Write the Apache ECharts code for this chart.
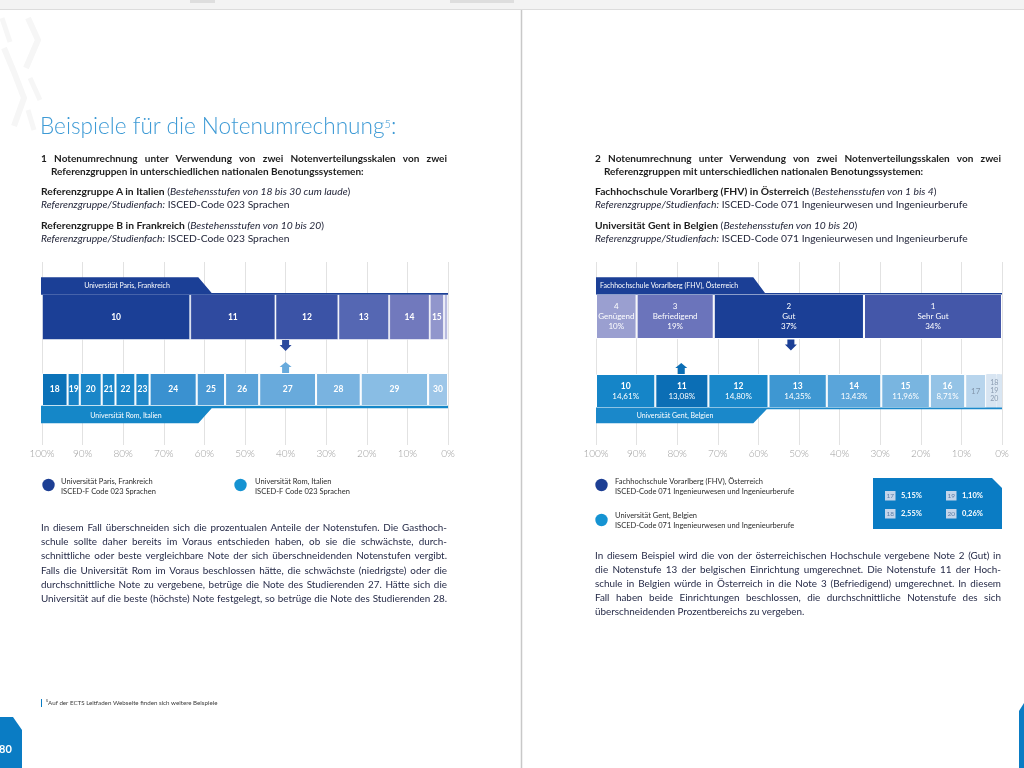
<!DOCTYPE html>
<html>
<head>
<meta charset="utf-8">
<script src="https://cdn.jsdelivr.net/npm/echarts@6/dist/echarts.min.js"></script>
<style>
html,body{margin:0;padding:0;background:#fff;}
#wrap{position:relative;width:1024px;height:768px;overflow:hidden;font-family:Lato,'Open Sans',sans-serif;}
#chart{position:absolute;left:0;top:0;width:1024px;height:768px;}
#txt{position:absolute;left:0;top:0;width:1024px;height:768px;pointer-events:none;}
.t{position:absolute;color:#23263a;font-size:10.3px;line-height:14px;height:14px;white-space:nowrap;}
.j{text-align:justify;text-align-last:justify;white-space:normal;overflow:hidden;}
.b{font-weight:700;color:#1c1c1c;}
.h{font-size:10px;}
.p{font-size:9.9px;color:#262b48;}
.i{font-style:italic;}
.title{position:absolute;left:40px;top:112px;font-size:22.6px;line-height:28px;font-weight:300;color:#3d9ad5;white-space:nowrap;}
.title sup{font-size:11px;vertical-align:top;position:relative;top:-2px;}
</style>
</head>
<body>
<div id="wrap">
<div id="chart"></div>
<div id="txt">
  <div class="title">Beispiele für die Notenumrechnung<sup>5</sup>:</div>

  <div class="t j b h" style="left:41px;top:151px;width:406px;">1 Notenumrechnung unter Verwendung von zwei Notenverteilungsskalen von zwei</div>
  <div class="t b h" style="left:51px;top:164px;">Referenzgruppen in unterschiedlichen nationalen Benotungssystemen:</div>
  <div class="t" style="left:41px;top:184px;"><span class="b">Referenzgruppe A in Italien</span> (<span class="i">Bestehensstufen von 18 bis 30 cum laude</span>)</div>
  <div class="t" style="left:41px;top:197px;"><span class="i">Referenzgruppe/Studienfach:</span> ISCED-Code 023 Sprachen</div>
  <div class="t" style="left:41px;top:218px;"><span class="b">Referenzgruppe B in Frankreich</span> (<span class="i">Bestehensstufen von 10 bis 20</span>)</div>
  <div class="t" style="left:41px;top:231px;"><span class="i">Referenzgruppe/Studienfach:</span> ISCED-Code 023 Sprachen</div>

  <div class="t j b h" style="left:595px;top:151px;width:406px;">2 Notenumrechnung unter Verwendung von zwei Notenverteilungsskalen von zwei</div>
  <div class="t b h" style="left:604px;top:164px;">Referenzgruppen mit unterschiedlichen nationalen Benotungssystemen:</div>
  <div class="t" style="left:595px;top:184px;"><span class="b">Fachhochschule Vorarlberg (FHV) in Österreich</span> (<span class="i">Bestehensstufen von 1 bis 4</span>)</div>
  <div class="t" style="left:595px;top:197px;"><span class="i">Referenzgruppe/Studienfach:</span> ISCED-Code 071 Ingenieurwesen und Ingenieurberufe</div>
  <div class="t" style="left:595px;top:218px;"><span class="b">Universität Gent in Belgien</span> (<span class="i">Bestehensstufen von 10 bis 20</span>)</div>
  <div class="t" style="left:595px;top:231px;"><span class="i">Referenzgruppe/Studienfach:</span> ISCED-Code 071 Ingenieurwesen und Ingenieurberufe</div>

  <div class="t j p" style="left:41px;top:520px;width:406px;">In diesem Fall überschneiden sich die prozentualen Anteile der Notenstufen. Die Gasthoch-</div>
  <div class="t j p" style="left:41px;top:534px;width:406px;">schule sollte daher bereits im Voraus entschieden haben, ob sie die schwächste, durch-</div>
  <div class="t j p" style="left:41px;top:548px;width:406px;">schnittliche oder beste vergleichbare Note der sich überschneidenden Notenstufen vergibt.</div>
  <div class="t j p" style="left:41px;top:563px;width:406px;">Falls die Universität Rom im Voraus beschlossen hätte, die schwächste (niedrigste) oder die</div>
  <div class="t j p" style="left:41px;top:577px;width:406px;">durchschnittliche Note zu vergebene, betrüge die Note des Studierenden 27. Hätte sich die</div>
  <div class="t j p" style="left:41px;top:591px;width:406px;">Universität auf die beste (höchste) Note festgelegt, so betrüge die Note des Studierenden 28.</div>

  <div class="t j p" style="left:595px;top:548px;width:406px;">In diesem Beispiel wird die von der österreichischen Hochschule vergebene Note 2 (Gut) in</div>
  <div class="t j p" style="left:595px;top:562px;width:406px;">die Notenstufe 13 der belgischen Einrichtung umgerechnet. Die Notenstufe 11 der Hoch-</div>
  <div class="t j p" style="left:595px;top:576px;width:406px;">schule in Belgien würde in Österreich in die Note 3 (Befriedigend) umgerechnet. In diesem</div>
  <div class="t j p" style="left:595px;top:590px;width:406px;">Fall haben beide Einrichtungen beschlossen, die durchschnittliche Notenstufe des sich</div>
  <div class="t p" style="left:595px;top:604px;">überschneidenden Prozentbereichs zu vergeben.</div>
</div>
</div>
<script>
// ---------- data ----------
const tickLabels = ['100%','90%','80%','70%','60%','50%','40%','30%','20%','10%','0%'];

const parisGrades = ['10','11','12','13','14','15',''];
const parisShares = [36.5, 21, 15.5, 12.5, 10, 3.5, 1];

const romeGrades = ['18','19','20','21','22','23','24','25','26','27','28','29','30'];
const romeShares = [6.3, 3, 5.4, 3.4, 4.9, 3.5, 11.6, 7, 8.4, 14, 11, 16.6, 4.9];

const fhvGrades = ['4','3','2','1'];
const fhvNames = ['Genügend','Befriedigend','Gut','Sehr Gut'];
const fhvShares = [10, 19, 37, 34];

const gentGrades = ['10','11','12','13','14','15','16','17','18','19','20'];
const gentShares = [14.61, 13.08, 14.80, 14.35, 13.43, 11.96, 8.71, 5.15, 2.55, 1.10, 0.26];

const parisArrowPct = 40, romeArrowPct = 40, fhvArrowPct = 52, gentArrowPct = 79;

// ---------- styles ----------
const parisColors = ['#1b3f96','#2f4a9f','#3b53a6','#5567b3','#7179bd','#9196cc','#b8bbe0'];
const romeColors = ['#0b72b8','#1883c6','#1a86c8','#1a86c8','#1c87c9','#2189ca','#3a91d0','#4a99d4','#5aa2d8','#68aadc','#79b3e0','#89bde4','#9dc6e8'];
const fhvColors = ['#9a9fd0','#6b74bb','#1b3f96','#4457a9'];
const gentColors = ['#1585c8','#0b6eb5','#1a88ca','#3e97d2','#5aa5da','#79b5e0','#94c3e6','#b8d5ed','#d8e5f2','#d8e5f2','#d8e5f2'];

const FONT = 'Lato, "Open Sans", sans-serif';
const fmtPct = v => v.toFixed(2).replace('.', ',') + '%';

const chart = echarts.init(document.getElementById('chart'), null, {renderer:'canvas'});

const L = {x:42, w:406}, R = {x:596, w:406};
const grids = [
  {left:L.x, top:262, width:L.w, height:183},  // 0 left axis
  {left:L.x, top:294, width:L.w, height:46},   // 1 Paris
  {left:L.x, top:373, width:L.w, height:33},   // 2 Rome
  {left:R.x, top:262, width:R.w, height:183},  // 3 right axis
  {left:R.x, top:294, width:R.w, height:45},   // 4 FHV
  {left:R.x, top:374, width:R.w, height:34}    // 5 Gent
];
const isAxis = i => i === 0 || i === 3;

const xAxes = grids.map((g, i) => ({
  type:'value', gridIndex:i, min:0, max:100, interval:10,
  axisLine:{show:false}, axisTick:{show:false},
  splitLine:{show:isAxis(i), lineStyle:{color:'#e2e2e2', width:1}},
  axisLabel:{show:isAxis(i), margin:4, color:'#9c9c9c', fontSize:10, fontFamily:FONT, fontWeight:300,
    formatter: v => tickLabels[Math.round(v/10)]}
}));
const yAxes = grids.map((g, i) => isAxis(i)
  ? {type:'value', gridIndex:i, show:false, min:0, max:1}
  : {type:'category', gridIndex:i, show:false, data:['']});

function band(key, grid, shares, colors, labelFor, borderFor) {
  return shares.map((v, i) => ({
    type:'bar', stack:key, xAxisIndex:grid, yAxisIndex:grid, data:[v],
    barWidth:'100%', silent:true, animation:false, z:3,
    itemStyle:{color:colors[i], borderColor: borderFor ? borderFor(i) : '#ffffff', borderWidth:1},
    label:labelFor(i)
  }));
}

const whiteBold = {color:'#fff', fontWeight:'bold', fontSize:8.5, fontFamily:FONT};

const series = [].concat(
  band('paris', 1, parisShares, parisColors,
    i => Object.assign({show: parisGrades[i] !== '', position:'inside', formatter: parisGrades[i]}, whiteBold),
    i => 'rgba(255,255,255,0.55)'),
  band('rome', 2, romeShares, romeColors,
    i => Object.assign({show:true, position:'inside', formatter: romeGrades[i]}, whiteBold)),
  band('fhv', 4, fhvShares, fhvColors,
    i => ({show:true, position:'inside', color:'#fff', fontSize:8, lineHeight:10, fontFamily:FONT,
      formatter: fhvGrades[i] + '\n' + fhvNames[i] + '\n' + fhvShares[i] + '%'})),
  band('gent', 5, gentShares, gentColors,
    i => {
      if (i < 7) return {show:true, position:'inside', fontFamily:FONT,
        formatter:'{a|' + gentGrades[i] + '}\n{b|' + fmtPct(gentShares[i]) + '}',
        rich:{a:{color:'#fff', fontWeight:'bold', fontSize:8.5, lineHeight:10, fontFamily:FONT},
              b:{color:'#fff', fontSize:8, lineHeight:10, fontFamily:FONT}}};
      if (i === 7) return {show:true, position:'inside', formatter:gentGrades[i], color:'#8397ad', fontSize:8, fontFamily:FONT};
      if (i === 8) return {show:true, position:'inside', offset:[3,0], formatter:gentGrades.slice(8).join('\n'),
        color:'#8a9bb0', fontSize:7, lineHeight:8, fontFamily:FONT};
      return {show:false};
    },
    i => i >= 8 ? gentColors[i] : '#ffffff')
);

chart.setOption({
  animation:false,
  grid:grids, xAxis:xAxes, yAxis:yAxes, series:series
});

// ---------- decorations ----------
const px = (grid, pct) => chart.convertToPixel({gridIndex:grid}, [100 - pct, 0])[0];

function downArrow(x, y, color) {
  return {type:'polygon', z:20, shape:{points:[[x-3.5,y],[x+3.5,y],[x+3.5,y+5],[x+6,y+5],[x,y+11],[x-6,y+5],[x-3.5,y+5]]}, style:{fill:color}};
}
function upArrow(x, y, color) { // y = bottom
  return {type:'polygon', z:20, shape:{points:[[x-3.5,y],[x+3.5,y],[x+3.5,y-6],[x+6,y-6],[x,y-11],[x-6,y-6],[x-3.5,y-6]]}, style:{fill:color}};
}
function txt(x, y, text, font, fill, align, extra) {
  return {type:'text', z:30, x:x, y:y, style:Object.assign({text:text, font:font, fill:fill, align:align||'left', verticalAlign:'middle'}, extra||{})};
}

const lRight = L.x + L.w, rRight = R.x + R.w;
const wm = '#f6f6f6';
const graphics = [
  // top toolbar strip
  {type:'rect', z:1, shape:{x:0,y:0,width:1024,height:9}, style:{fill:'#f3f3f3'}},
  {type:'line', z:1, shape:{x1:0,y1:9.5,x2:1024,y2:9.5}, style:{stroke:'#dcdcdc', lineWidth:1}},
  {type:'rect', z:1, shape:{x:190,y:0,width:25,height:3}, style:{fill:'#dedede'}},
  {type:'rect', z:1, shape:{x:450,y:0,width:64,height:3}, style:{fill:'#dedede'}},
  // page divider
  {type:'line', z:1, shape:{x1:521.5,y1:10,x2:521.5,y2:768}, style:{stroke:'#c8c8c8', lineWidth:1.5}},
  // watermark
  {type:'polyline', z:0, shape:{points:[[2,18],[10,42]]}, style:{stroke:wm, lineWidth:5}},
  {type:'polyline', z:0, shape:{points:[[28,18],[38,40],[26,68]]}, style:{stroke:wm, lineWidth:6}},
  {type:'polyline', z:0, shape:{points:[[4,48],[14,72],[24,98],[14,126]]}, style:{stroke:wm, lineWidth:6}},
  {type:'polyline', z:0, shape:{points:[[30,78],[40,100]]}, style:{stroke:wm, lineWidth:5}},
  {type:'polyline', z:0, shape:{points:[[28,110],[34,130]]}, style:{stroke:wm, lineWidth:5}},

  // Paris tab + top line
  {type:'polygon', z:10, shape:{points:[[41,277.3],[198.3,277.3],[211.7,293],[lRight,293],[lRight,294.8],[41,294.8]]}, style:{fill:'#1b3f96'}},
  txt(127, 286, 'Universität Paris, Frankreich', '7px ' + FONT, '#ffffff', 'center'),
  // Rome bottom line + tab
  {type:'polygon', z:10, shape:{points:[[41,405.8],[lRight,405.8],[lRight,408.3],[211.7,408.3],[198.3,423.3],[41,423.3]]}, style:{fill:'#1587c8'}},
  txt(126, 416, 'Universität Rom, Italien', '7px ' + FONT, '#ffffff', 'center'),

  // FHV tab + top line
  {type:'polygon', z:10, shape:{points:[[596,277.3],[753.3,277.3],[765,293],[rRight,293],[rRight,294.6],[596,294.6]]}, style:{fill:'#1b3f96'}},
  txt(600, 286, 'Fachhochschule Vorarlberg (FHV), Österreich', '7px ' + FONT, '#ffffff', 'left'),
  // Gent bottom line + tab
  {type:'polygon', z:10, shape:{points:[[596,407.6],[rRight,407.6],[rRight,409.2],[766.7,409.2],[753.3,423.3],[596,423.3]]}, style:{fill:'#1a88ca'}},
  txt(675, 416, 'Universität Gent, Belgien', '7px ' + FONT, '#ffffff', 'center'),

  // arrows
  downArrow(px(1, parisArrowPct), 340, '#2c4a9d'),
  upArrow(px(2, romeArrowPct), 373, '#68aadc'),
  downArrow(px(4, fhvArrowPct), 339.5, '#1b3f96'),
  upArrow(px(5, gentArrowPct), 374, '#0b6eb5'),

  // left legend
  {type:'circle', z:20, shape:{cx:48.5,cy:485,r:6.2}, style:{fill:'#1d3f94'}},
  txt(61, 486.5, 'Universität Paris, Frankreich\nISCED-F Code 023 Sprachen', '7.5px ' + FONT, '#2b2b2b', 'left', {lineHeight:10}),
  {type:'circle', z:20, shape:{cx:240.5,cy:485,r:6.2}, style:{fill:'#1593d2'}},
  txt(255, 486.5, 'Universität Rom, Italien\nISCED-F Code 023 Sprachen', '7.5px ' + FONT, '#2b2b2b', 'left', {lineHeight:10}),

  // right legend
  {type:'circle', z:20, shape:{cx:601.5,cy:485,r:6.2}, style:{fill:'#1d3f94'}},
  txt(615, 486.5, 'Fachhochschule Vorarlberg (FHV), Österreich\nISCED-Code 071 Ingenieurwesen und Ingenieurberufe', '7.5px ' + FONT, '#2b2b2b', 'left', {lineHeight:10}),
  {type:'circle', z:20, shape:{cx:601.5,cy:520,r:6.2}, style:{fill:'#1593d2'}},
  txt(615, 521, 'Universität Gent, Belgien\nISCED-Code 071 Ingenieurwesen und Ingenieurberufe', '7.5px ' + FONT, '#2b2b2b', 'left', {lineHeight:10}),

  // small-share table box
  {type:'polygon', z:20, shape:{points:[[873,478],[992,478],[1002,488],[1002,529],[873,529]]}, style:{fill:'#0a7cc4'}}
];

const tableCells = [[7, 885, 491], [9, 946, 491], [8, 885, 509], [10, 946, 509]];
tableCells.forEach(([idx, x, y]) => {
  graphics.push({type:'rect', z:25, shape:{x:x, y:y, width:10.5, height:9.5}, style:{fill:'#c4d5ea'}});
  graphics.push(txt(x + 5.25, y + 5, gentGrades[idx], '6.5px ' + FONT, '#5d7ea6', 'center'));
  graphics.push(txt(x + 16, y + 5, fmtPct(gentShares[idx]), 'bold 7.5px ' + FONT, '#ffffff', 'left'));
});

// footnote & page number
graphics.push(
  {type:'rect', z:20, shape:{x:41,y:699,width:1,height:8}, style:{fill:'#0a7cc4'}},
  txt(46, 703.5, '⁵Auf der ECTS Leitfaden Webseite finden sich weitere Beispiele', '6.2px ' + FONT, '#3a3a3a', 'left'),
  {type:'polygon', z:20, shape:{points:[[0,717],[13,717],[22,730],[22,768],[0,768]]}, style:{fill:'#0a7cc4'}},
  txt(-1, 749, '80', 'bold 11px ' + FONT, '#ffffff', 'left'),
  {type:'polygon', z:20, shape:{points:[[1024,703],[1019,711],[1019,768],[1024,768]]}, style:{fill:'#0a7cc4'}}
);

chart.setOption({graphic:{elements:graphics}});
</script>
</body>
</html>
